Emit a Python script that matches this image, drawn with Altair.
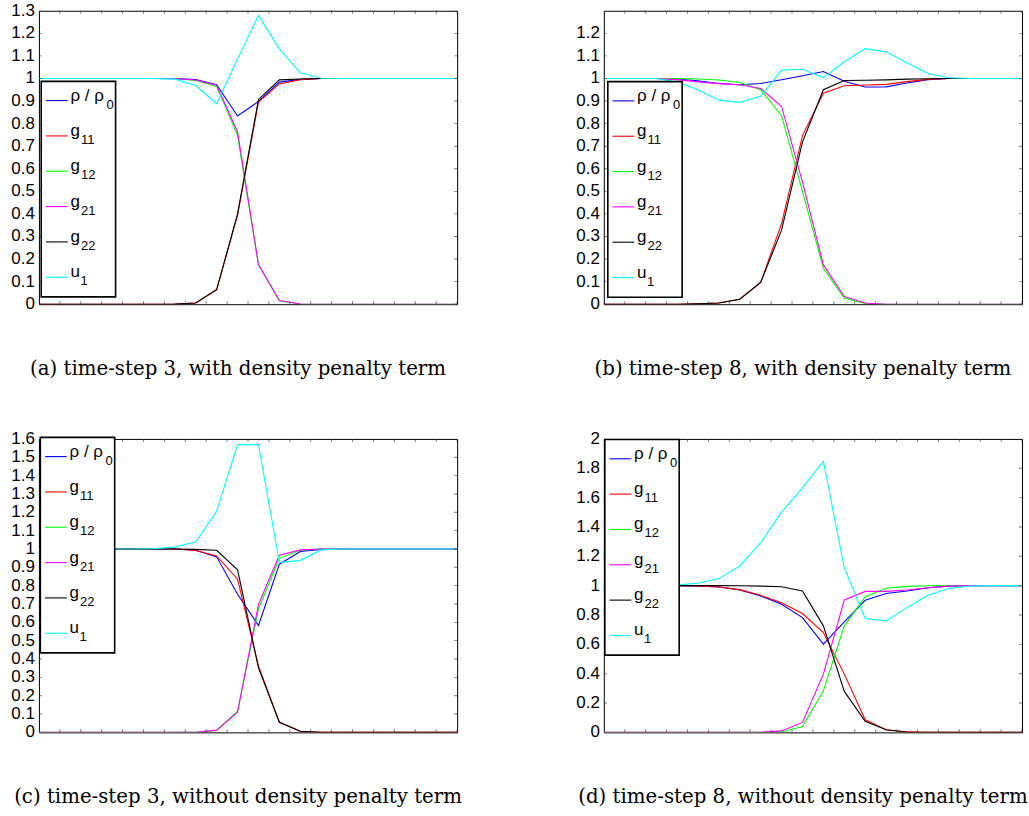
import altair as alt
import pandas as pd

# ---------------- data ----------------
X = [0, 0.5, 1.5, 2.5, 3.5, 4.5, 5.5, 6.5, 7.5, 8.5, 9.5, 10.5,
     11.5, 12.5, 13.5, 14.5, 15.5, 16.5, 17.5, 18.5, 19.5, 20]
X_TICKS = [0, 1, 2, 3, 4, 5, 6, 7, 8, 9, 10, 11, 12, 13, 14, 15, 16, 17, 18, 19, 20]

SERIES = ["rho", "g11", "g12", "g21", "g22", "u1"]
COLORS = ["#0000ff", "#ff0000", "#00ff00", "#ff00ff", "#000000", "#00ffff"]
LEG_MAIN = ["ρ / ρ", "g", "g", "g", "g", "u"]
LEG_SUB = ["0", "11", "12", "21", "22", "1"]

# (a) time-step 3, with density penalty term
a_rho = [1, 1, 1, 1, 1, 1, 1, 1, 0.995, 0.972, 0.834, 0.898, 0.984, 0.996, 1, 1, 1, 1, 1, 1, 1, 1]
a_g11 = [0, 0, 0, 0, 0, 0, 0, 0.001, 0.005, 0.063, 0.395, 0.895, 0.976, 0.995, 1, 1, 1, 1, 1, 1, 1, 1]
a_g12 = [1, 1, 1, 1, 1, 1, 1, 0.999, 0.991, 0.965, 0.748, 0.174, 0.015, 0.001, 0, 0, 0, 0, 0, 0, 0, 0]
a_g21 = [1, 1, 1, 1, 1, 1, 1, 0.999, 0.993, 0.970, 0.763, 0.176, 0.016, 0.001, 0, 0, 0, 0, 0, 0, 0, 0]
a_g22 = [0, 0, 0, 0, 0, 0, 0, 0.001, 0.005, 0.065, 0.400, 0.907, 0.994, 0.998, 1, 1, 1, 1, 1, 1, 1, 1]
a_u1 = [1, 1, 1, 1, 1, 1, 1, 0.997, 0.969, 0.888, 1.087, 1.278, 1.131, 1.025, 1.001, 1, 1, 1, 1, 1, 1, 1]

# (b) time-step 8, with density penalty term
b_rho = [1, 1, 1, 1, 0.998, 0.99, 0.978, 0.972, 0.978, 0.994, 1.012, 1.031, 0.988, 0.962, 0.963, 0.98, 0.995, 1.0, 1, 1, 1, 1]
b_g11 = [0, 0, 0, 0, 0, 0.002, 0.005, 0.022, 0.096, 0.357, 0.747, 0.935, 0.968, 0.971, 0.974, 0.986, 0.996, 1, 1, 1, 1, 1]
b_g12 = [1, 1, 1, 1, 1, 0.998, 0.993, 0.982, 0.950, 0.835, 0.500, 0.159, 0.026, 0.003, 0, 0, 0, 0, 0, 0, 0, 0]
b_g21 = [1, 1, 1, 1, 0.995, 0.985, 0.977, 0.972, 0.956, 0.876, 0.541, 0.174, 0.034, 0.005, 0, 0, 0, 0, 0, 0, 0, 0]
b_g22 = [0, 0, 0, 0, 0, 0.002, 0.005, 0.022, 0.096, 0.328, 0.718, 0.950, 0.991, 0.992, 0.994, 0.997, 0.999, 1, 1, 1, 1, 1]
b_u1 = [1, 1, 1, 1, 0.985, 0.95, 0.904, 0.894, 0.921, 1.037, 1.041, 1.004, 1.074, 1.132, 1.118, 1.07, 1.022, 1.003, 1, 1, 1, 1]

# (c) time-step 3, without density penalty term
c_rho = [1, 1, 1, 1, 1, 1, 1, 1, 0.993, 0.957, 0.753, 0.583, 0.917, 0.986, 0.998, 1, 1, 1, 1, 1, 1, 1]
c_g11 = [1, 1, 1, 1, 1, 1, 1, 1, 0.992, 0.962, 0.835, 0.361, 0.055, 0.006, 0, 0, 0, 0, 0, 0, 0, 0]
c_g12 = [0, 0, 0, 0, 0, 0, 0, 0, 0.001, 0.011, 0.115, 0.674, 0.949, 0.993, 1, 1, 1, 1, 1, 1, 1, 1]
c_g21 = [0, 0, 0, 0, 0, 0, 0, 0, 0.001, 0.012, 0.110, 0.698, 0.966, 0.995, 1, 1, 1, 1, 1, 1, 1, 1]
c_g22 = [1, 1, 1, 1, 1, 1, 1, 1, 0.998, 0.993, 0.886, 0.352, 0.055, 0.006, 0, 0, 0, 0, 0, 0, 0, 0]
c_u1 = [1, 1, 1, 1, 1, 1, 1.002, 1.01, 1.039, 1.206, 1.569, 1.569, 0.926, 0.938, 0.995, 1, 1, 1, 1, 1, 1, 1]

# (d) time-step 8, without density penalty term
d_rho = [1, 1, 1, 1, 1, 0.998, 0.991, 0.971, 0.93, 0.873, 0.782, 0.601, 0.753, 0.9, 0.946, 0.964, 0.986, 0.997, 1, 1, 1, 1]
d_g11 = [1, 1, 1, 1, 1, 0.998, 0.991, 0.973, 0.934, 0.884, 0.81, 0.68, 0.397, 0.086, 0.018, 0.003, 0, 0, 0, 0, 0, 0]
d_g12 = [0, 0, 0, 0, 0, 0, 0, 0, 0, 0.003, 0.039, 0.283, 0.726, 0.925, 0.982, 0.995, 0.999, 1, 1, 1, 1, 1]
d_g21 = [0, 0, 0, 0, 0, 0, 0, 0, 0.001, 0.01, 0.068, 0.397, 0.902, 0.961, 0.961, 0.97, 0.986, 0.997, 1, 1, 1, 1]
d_g22 = [1, 1, 1, 1, 1, 1, 1, 0.999, 0.997, 0.993, 0.964, 0.726, 0.279, 0.075, 0.018, 0.002, 0, 0, 0, 0, 0, 0]
d_u1 = [1, 1, 1, 1, 1.005, 1.016, 1.048, 1.134, 1.293, 1.501, 1.667, 1.848, 1.122, 0.776, 0.76, 0.85, 0.934, 0.98, 0.998, 1, 1, 1]

Y_TICKS_13 = [0, 0.1, 0.2, 0.3, 0.4, 0.5, 0.6, 0.7, 0.8, 0.9, 1, 1.1, 1.2, 1.3]
Y_TICKS_12 = [0, 0.1, 0.2, 0.3, 0.4, 0.5, 0.6, 0.7, 0.8, 0.9, 1, 1.1, 1.2]
Y_TICKS_16 = [0, 0.1, 0.2, 0.3, 0.4, 0.5, 0.6, 0.7, 0.8, 0.9, 1, 1.1, 1.2, 1.3, 1.4, 1.5, 1.6]
Y_TICKS_20 = [0, 0.2, 0.4, 0.6, 0.8, 1, 1.2, 1.4, 1.6, 1.8, 2]

CAPTIONS = [
    "(a) time-step 3, with density penalty term",
    "(b) time-step 8, with density penalty term",
    "(c) time-step 3, without density penalty term",
    "(d) time-step 8, without density penalty term",
]

# ---------------- layout constants ----------------
W, H = 419, 294
SANS = "Liberation Sans"
SERIF = "DejaVu Serif"
SUB_DX = [36, 10.5, 10.5, 10.5, 10.5, 10]

ONE = pd.DataFrame({"k": [0]})


def panel(vals, ymax, yticks, caption, box_left, box_top, title_offset):
    xs = alt.Scale(domain=[0, 20], nice=False, zero=False)
    ys = alt.Scale(domain=[0, ymax], nice=False, zero=False)
    layers = []
    for col, v in zip(COLORS, vals):
        df = pd.DataFrame({"x": X, "v": v})
        layers.append(
            alt.Chart(df).mark_line(color=col, strokeWidth=1.1, clip=True).encode(
                x=alt.X("x:Q", scale=xs, axis=None),
                y=alt.Y("v:Q", scale=ys, axis=None),
            )
        )
    xt = pd.DataFrame({"t": X_TICKS})
    yt = pd.DataFrame({"t": yticks})
    tick_style = dict(size=6, thickness=0.9, color="#333333", clip=True)
    for yd in (0, ymax):
        layers.append(
            alt.Chart(xt).mark_tick(orient="vertical", **tick_style).encode(
                x=alt.X("t:Q", scale=xs, axis=None),
                y=alt.YDatum(yd, axis=None)))
    for xd in (0, 20):
        layers.append(
            alt.Chart(yt).mark_tick(orient="horizontal", **tick_style).encode(
                y=alt.Y("t:Q", scale=ys, axis=None),
                x=alt.XDatum(xd, axis=None)))
    # y tick labels (left side)
    layers.append(
        alt.Chart(yt).mark_text(align="right", baseline="middle", font=SANS, fontSize=17,
                                color="black").encode(
            x=alt.value(-4),
            y=alt.Y("t:Q", scale=ys, axis=None),
            text=alt.Text("t:Q", format=".1~f")))

    # legend box
    L, T = box_left, box_top
    layers.append(
        alt.Chart(ONE).mark_rect(fill="white", stroke="black", strokeWidth=1.6).encode(
            x=alt.value(L), x2=alt.value(L + 74.5), y=alt.value(T), y2=alt.value(T + 216)))
    for i, (col, main, sub) in enumerate(zip(COLORS, LEG_MAIN, LEG_SUB)):
        ly = T + 19.3 + 35.4 * i
        layers.append(
            alt.Chart(ONE).mark_rule(color=col, strokeWidth=1.1).encode(
                x=alt.value(L + 4.7), x2=alt.value(L + 26.5), y=alt.value(ly)))
        layers.append(
            alt.Chart(ONE).mark_text(align="left", baseline="alphabetic", font=SANS,
                                     fontSize=17, color="black").encode(
                x=alt.value(L + 29.3), y=alt.value(ly), text=alt.value(main)))
        layers.append(
            alt.Chart(ONE).mark_text(align="left", baseline="alphabetic", font=SANS,
                                     fontSize=13, color="black").encode(
                x=alt.value(L + 29.3 + SUB_DX[i]), y=alt.value(ly + 8), text=alt.value(sub)))

    return alt.layer(*layers).properties(
        width=W, height=H,
        title=alt.TitleParams(caption, orient="bottom", anchor="middle", font=SERIF,
                              fontSize=19.8, fontWeight="normal", color="black",
                              offset=title_offset, dx=-10),
    )


pa = panel([a_rho, a_g11, a_g12, a_g21, a_g22, a_u1], 1.3, Y_TICKS_13, CAPTIONS[0], 2.3, 70.7, 47)
pb = panel([b_rho, b_g11, b_g12, b_g21, b_g22, b_u1], 1.3, Y_TICKS_12, CAPTIONS[1], 4.0, 71.0, 47)
pc = panel([c_rho, c_g11, c_g12, c_g21, c_g22, c_u1], 1.6, Y_TICKS_16, CAPTIONS[2], 1.4, -1.6, 47)
pd_ = panel([d_rho, d_g11, d_g12, d_g21, d_g22, d_u1], 2.0, Y_TICKS_20, CAPTIONS[3], 1.0, 0.6, 47)

chart = alt.concat(
    pa, pb, pc, pd_, columns=2,
    spacing={"row": 135, "column": 147},
    bounds="flush",
).properties(
    padding={"left": 10, "top": 0, "right": 0, "bottom": 0},
).configure_view(stroke="black", strokeWidth=1)

chart.save("out.html", embed_options={"renderer": "svg", "actions": False})
